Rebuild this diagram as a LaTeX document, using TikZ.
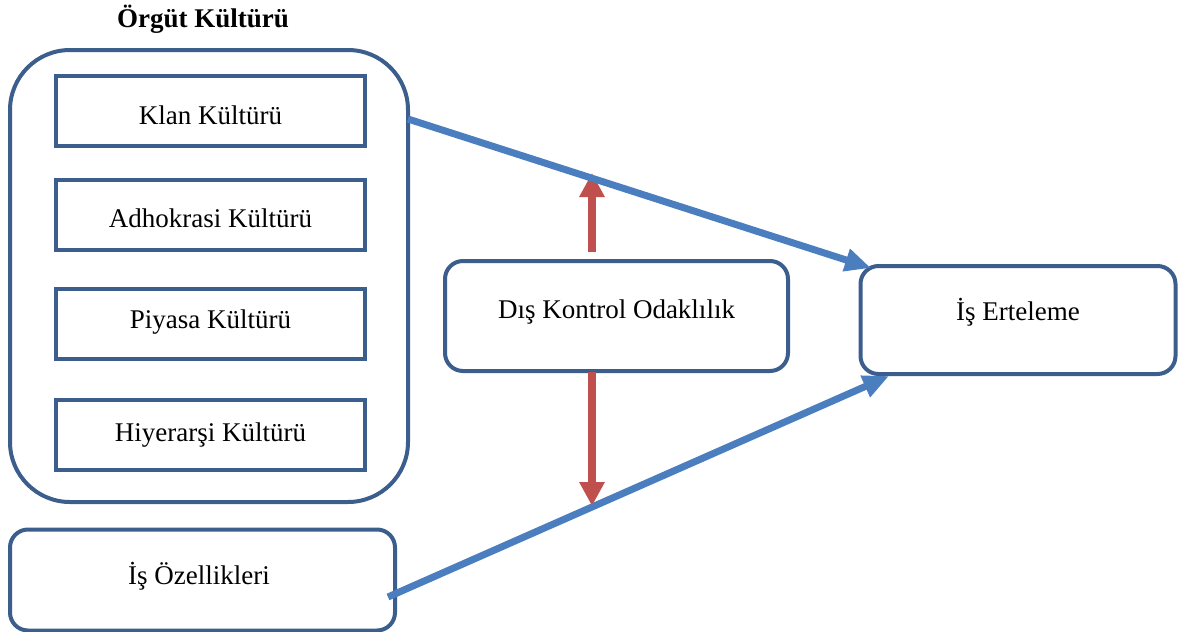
\documentclass[tikz,border=0pt]{standalone}
\usepackage{fontspec}
\setmainfont{Liberation Serif}
\usetikzlibrary{arrows.meta,calc}
\definecolor{boxblue}{HTML}{3B5E8D}
\definecolor{arrblue}{HTML}{4A7EBF}
\definecolor{arrred}{HTML}{C0504D}
\begin{document}
\begin{tikzpicture}[x=0.5pt,y=-0.5pt,
  every node/.style={font=\fontsize{13.5}{16}\selectfont, inner sep=0pt},
  culture/.style={draw=boxblue, line width=2pt, fill=white, minimum width=154.5pt, minimum height=35pt},
  rbox/.style={draw=boxblue, line width=2pt, fill=white, rounded corners=9pt},
  bluearrow/.style={draw=arrblue, line width=3.5pt, -{Triangle[length=13pt,width=11pt]}, shorten <=0pt},
  redarrow/.style={draw=arrred, line width=4pt, -{Triangle[length=12pt,width=12pt]}}
]
\useasboundingbox (0,0) rectangle (1179,632);
% title
\node[font=\fontsize{13.5}{16}\selectfont\bfseries] (title) at (203,19) {Örgüt Kültürü};
% outer group
\node[rbox, rounded corners=30pt, minimum width=199pt, minimum height=226pt] (org) at (209,276) {};
\node[culture] (klan) at (210.5,111) {};
\node (klant) at (210.5,115) {Klan Kültürü};
\node[culture] (adh) at (210.5,214.5) {};
\node (adht) at (210.5,218) {Adhokrasi Kültürü};
\node[culture] (piy) at (210.5,323.5) {};
\node (piyt) at (210.5,322) {Piyasa Kültürü};
\node[culture] (hiy) at (210.5,434.5) {};
\node (hiyt) at (210.5,435) {Hiyerarşi Kültürü};
% other boxes
\node[rbox, minimum width=192.5pt, minimum height=50.5pt] (ozel) at (202.5,580) {};
\node (ozelt) at (199,576) {İş Özellikleri};
\node[rbox, minimum width=171.5pt, minimum height=55pt] (dis) at (616.5,316) {};
\node (dist) at (616.5,312) {Dış Kontrol Odaklılık};
\node[rbox, minimum width=157.5pt, minimum height=54pt] (ert) at (1018,320) {};
\node (ertt) at (1018,312) {İş Erteleme};
% connector coordinates
\coordinate (a1s) at (408,119);
\coordinate (a1e) at (871,268);
\coordinate (a2s) at (388,597);
\coordinate (a2e) at (889,376);
\coordinate (r1s) at (592,252);
\coordinate (r1e) at (592,173);
\coordinate (r2s) at (592,372);
\coordinate (r2e) at (592,506);
\draw[redarrow] (r1s) -- (r1e);
\draw[redarrow] (r2s) -- (r2e);
\draw[bluearrow] (a1s) -- (a1e);
\draw[bluearrow] (a2s) -- (a2e);
\end{tikzpicture}
\end{document}
